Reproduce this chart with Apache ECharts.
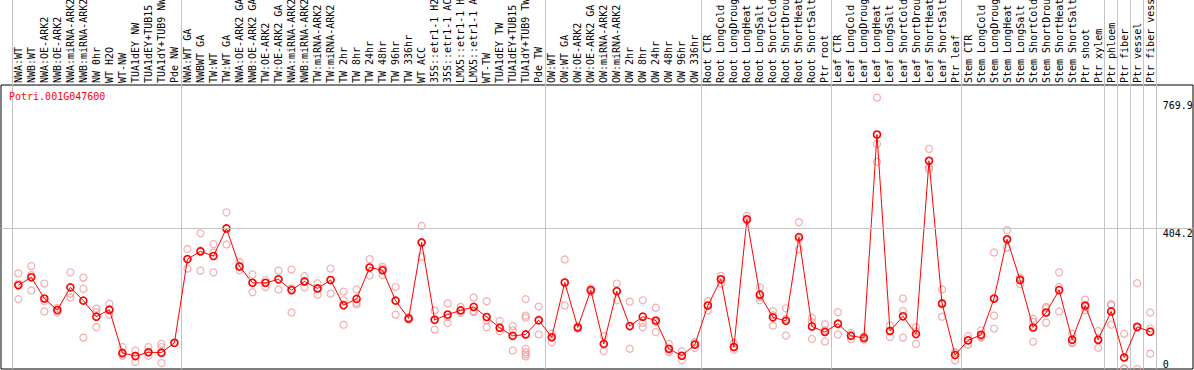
<!DOCTYPE html>
<html><head><meta charset="utf-8">
<script src="https://cdn.jsdelivr.net/npm/echarts@6/dist/echarts.min.js"></script>
<style>html,body{margin:0;padding:0;background:#fff}#c{width:1194px;height:370px}</style>
</head><body><div id="c"></div>
<script>
const geneId = 'Potri.001G047600';

const categories = [
  'NWA:WT','NWB:WT','NWA:OE-ARK2','NWB:OE-ARK2','NWA:miRNA-ARK2','NWB:miRNA-ARK2','NW 0hr','WT H2O','WT-NW',
  'TUA1dEY NW','TUA1dEY+TUB15 NW','TUA1dY+TUB9 NW','Pde NW',
  'NWA:WT GA','NWBWT GA','TW:WT','TW:WT GA','NWA:OE-ARK2 GA','NWB:OE-ARK2 GA','TW:OE-ARK2','TW:OE-ARK2 GA',
  'NWA:miRNA-ARK2','NWB:miRNA-ARK2','TW:miRNA-ARK2','TW:miRNA-ARK2','TW 2hr','TW 8hr','TW 24hr','TW 48hr',
  'TW 96hr','TW 336hr','WT ACC','35S::etr1-1 H2O','35S::etr1-1 ACC','LMX5::etr1-1 H2O','LMX5::etr1-1 ACC',
  'WT-TW','TUA1dEY TW','TUA1dEY+TUB15 TW','TUA1dY+TUB9 TW','Pde TW',
  'OW:WT','OW:WT GA','OW:OE-ARK2','OW:OE-ARK2 GA','OW:miRNA-ARK2','OW:miRNA-ARK2','OW 2hr','OW 8hr','OW 24hr',
  'OW 48hr','OW 96hr','OW 336hr',
  'Root CTR','Root LongCold','Root LongDrought','Root LongHeat','Root LongSalt','Root ShortCold','Root ShortDrought',
  'Root ShortHeat','Root ShortSalt','Ptr root',
  'Leaf CTR','Leaf LongCold','Leaf LongDrought','Leaf LongHeat','Leaf LongSalt','Leaf ShortCold','Leaf ShortDrought',
  'Leaf ShortHeat','Leaf ShortSalt','Ptr leaf',
  'Stem CTR','Stem LongCold','Stem LongDrought','Stem LongHeat','Stem LongSalt','Stem ShortCold','Stem ShortDrought',
  'Stem ShortHeat','Stem ShortSalt','Ptr shoot',
  'Ptr xylem','Ptr phloem','Ptr fiber','Ptr vessel','Ptr fiber vessel'
];

const means = [
  240, 263, 202, 169, 234, 196, 150, 170, 46,
  37, 48, 47, 75,
  315, 337, 324, 403, 294, 247, 247, 257,
  226, 251, 231, 255, 183, 201, 291, 283,
  196, 145, 363, 141, 156, 168, 178,
  149, 118, 95, 99, 140,
  91, 248, 119, 226, 72, 223, 123, 150, 139,
  58, 38, 70,
  182, 257, 63, 429, 213, 148, 138,
  378, 122, 106,
  130, 95, 89, 672, 109, 151, 100,
  597, 188, 40,
  82, 98, 202, 372, 255, 119, 162,
  226, 84, 182,
  84, 165, 33, 121, 107
];

const replicates = [
  [274, 245, 200], [295, 269, 225], [245, 195, 165], [175, 169, 162], [277, 216, 205], [262, 230, 90],
  [173, 163, 120], [187, 168, 156], [63, 42, 38],
  [53, 38, 20], [63, 48, 38], [72, 63, 44, 17], [75],
  [344, 315, 288], [389, 340, 282], [358, 334, 277], [449, 403, 357], [307, 293, 283], [271, 247, 220],
  [255, 247, 235], [282, 257, 228],
  [285, 231, 162], [266, 251, 234], [246, 231, 213], [288, 255, 216], [222, 197, 127], [228, 190, 185],
  [315, 291, 268], [293, 288, 269],
  [235, 196, 156], [149, 145, 141], [410, 360, 322], [168, 141, 113], [188, 149, 132], [178, 168, 161],
  [205, 166, 163],
  [194, 140, 120], [138, 118, 109], [123, 111, 95, 53], [200, 153, 147, 58, 48, 42, 36], [179, 140, 99],
  [101, 91, 77], [314, 248, 182], [122, 119, 116], [231, 226, 221], [94, 72, 51], [245, 223, 197],
  [193, 123, 58], [197, 132, 120], [176, 134, 106],
  [72, 53, 48], [51, 38, 25], [77, 70, 60],
  [195, 182, 168], [267, 257, 245], [74, 63, 55], [439, 429, 425], [234, 207, 197], [166, 154, 124],
  [174, 143, 96],
  [421, 372, 343], [147, 134, 86], [128, 111, 79],
  [163, 128, 99], [103, 97, 86], [94, 89, 84], [778, 645, 594], [125, 110, 92], [202, 166, 90],
  [120, 108, 72],
  [631, 579, 573], [228, 185, 150], [48, 46, 25],
  [94, 83, 70], [111, 94, 90], [334, 153, 116], [398, 369, 348], [262, 258, 243], [144, 135, 78],
  [178, 174, 133],
  [277, 235, 165], [101, 76, 74], [199, 178, 168],
  [109, 82, 61], [186, 183, 127], [101, 2, 0], [246, 118, 0], [162, 116, 44]
];

const yLabelsUpper = [404.2, 769.9];
const yLabelsLower = [0];
const referenceLevel = 404.2;
const groupStarts = [0, 13, 41, 53, 63, 73, 84, 85, 86, 87];

const repPoints = [];
replicates.forEach((arr, i) => arr.forEach(v => repPoints.push([i, v])));

const mono = 'DejaVu Sans Mono';
const dataYMax = 1057.8;   // grid spans y = 0 .. 369 px
const frameYMax = 814.2;   // grid spans y = 85 .. 369 px

const chart = echarts.init(document.getElementById('c'), null, {renderer: 'svg'});
chart.setOption({
  animation: false,
  backgroundColor: '#fff',
  title: {
    text: geneId, left: 9, top: 91, padding: 0,
    textStyle: {color: '#ff0000', fontSize: 10, fontFamily: mono, fontWeight: 'normal'}
  },
  grid: [
    {left: 11.8, right: 37.3, top: 0, bottom: 1, show: false, containLabel: false, outerBoundsMode: 'none'},
    {left: 1, right: 1, top: 85, bottom: 1, show: true, borderColor: '#000', borderWidth: 1,
     backgroundColor: 'transparent', containLabel: false, outerBoundsMode: 'none'}
  ],
  xAxis: [
    {
      gridIndex: 0, type: 'category', data: categories, boundaryGap: true,
      position: 'bottom', offset: -284,
      axisLine: {show: false, onZero: false}, axisTick: {show: false},
      axisLabel: {inside: true, rotate: 90, interval: 0, margin: 2, fontSize: 10, fontFamily: mono, color: '#000',
        hideOverlap: false},
      splitLine: {show: true, interval: (idx) => groupStarts.includes(idx), lineStyle: {color: '#c4c4c4', width: 1}}
    },
    {gridIndex: 1, type: 'value', min: 0, max: 1, show: false}
  ],
  yAxis: [
    {
      gridIndex: 0, type: 'value', min: 0, max: dataYMax, position: 'right',
      axisLine: {show: false}, axisTick: {show: false}, splitLine: {show: false},
      axisLabel: {customValues: yLabelsUpper, margin: 6, align: 'left', verticalAlign: 'top',
        fontSize: 10, fontFamily: mono, color: '#000', formatter: v => String(v)}
    },
    {
      gridIndex: 0, type: 'value', min: 0, max: dataYMax, position: 'right',
      axisLine: {show: false}, axisTick: {show: false}, splitLine: {show: false},
      axisLabel: {customValues: yLabelsLower, margin: 6, align: 'left', verticalAlign: 'bottom',
        fontSize: 10, fontFamily: mono, color: '#000', formatter: v => String(v)}
    },
    {gridIndex: 1, type: 'value', min: 0, max: frameYMax, show: false}
  ],
  series: [
    {
      type: 'line', xAxisIndex: 1, yAxisIndex: 2, data: [], silent: true,
      markLine: {
        silent: true, symbol: 'none', label: {show: false},
        lineStyle: {color: '#c4c4c4', width: 1, type: 'solid'},
        data: [[{xAxis: 0, yAxis: referenceLevel}, {xAxis: 1, yAxis: referenceLevel}]]
      }
    },
    {
      type: 'scatter', xAxisIndex: 0, yAxisIndex: 0, data: repPoints, z: 2,
      symbol: 'circle', symbolSize: 7,
      itemStyle: {color: 'rgba(0,0,0,0)', borderColor: '#ec9a9a', borderWidth: 1.2}
    },
    {
      type: 'line', xAxisIndex: 0, yAxisIndex: 0, data: means, z: 3,
      symbol: 'circle', symbolSize: 7, showSymbol: true, showAllSymbol: true,
      itemStyle: {color: 'rgba(255,255,255,0)', borderColor: '#ff0000', borderWidth: 1.6},
      lineStyle: {color: '#ff0000', width: 1}
    }
  ]
});
</script>
</body></html>
